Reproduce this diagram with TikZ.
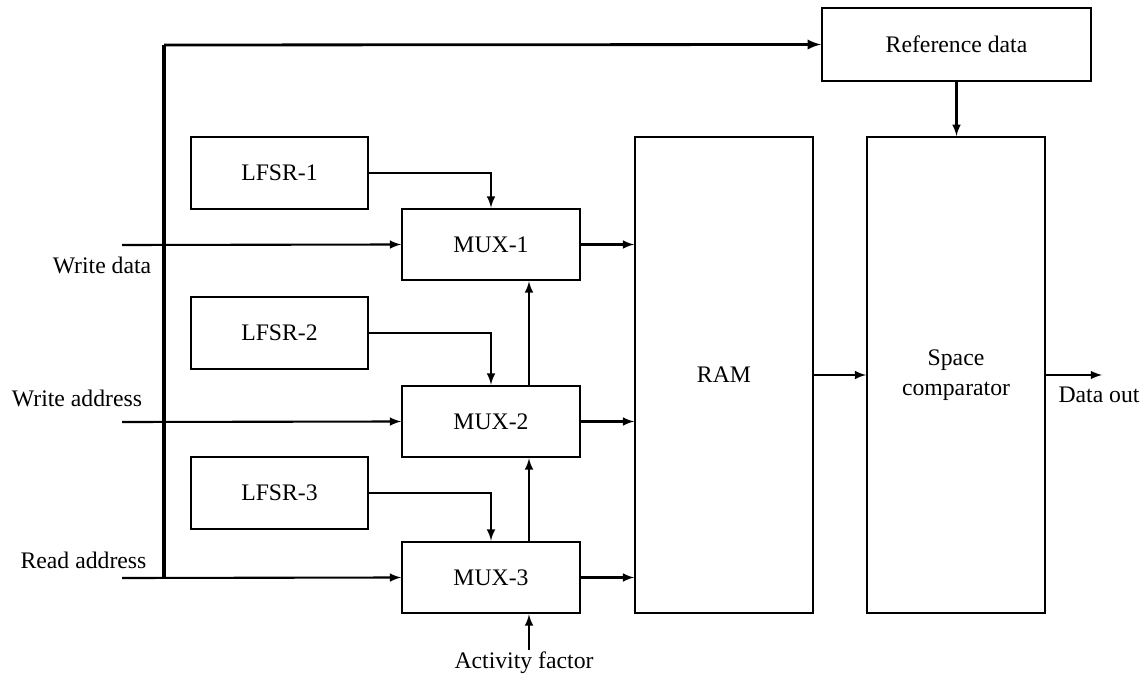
\documentclass[tikz,border=0pt]{standalone}
\usepackage{fontspec}
\setmainfont{Liberation Serif}
\begin{document}
\begin{tikzpicture}[x=0.02cm,y=-0.02cm,font=\fontsize{13.5}{17}\selectfont,
    blk/.style={draw,line width=1.3pt,minimum width=3.55cm,minimum height=1.43cm,inner sep=0pt},
    wire/.style={line width=1.2pt,-latex},
    bus/.style={line width=1.9pt}]
    \useasboundingbox (0,0) rectangle (1145,675);
    % blocks
    \node[blk,minimum width=5.38cm,minimum height=1.46cm] (ref) at (956.5,44.5) {Reference data};
    \node[blk] (lfsr1) at (279.5,173) {LFSR-1};
    \node[blk] (lfsr2) at (279.5,333) {LFSR-2};
    \node[blk] (lfsr3) at (279.5,493) {LFSR-3};
    \node[blk] (mux1) at (491,244.5) {MUX-1};
    \node[blk] (mux2) at (491,421.5) {MUX-2};
    \node[blk] (mux3) at (491,577.5) {MUX-3};
    \node[blk,minimum height=9.52cm] (ram) at (724,375) {RAM};
    \node[blk,minimum height=9.52cm,align=center] (comp) at (956,375) {Space\\comparator};
    % labels
    \node (wd) at (102,265) {Write data};
    \node (wa) at (77,398) {Write address};
    \node (ra) at (83.5,560) {Read address};
    \node (act) at (524,663) {Activity factor};
    \node (out) at (1099,395) {Data out};
    \coordinate (wdin) at (122,245);
    \coordinate (wain) at (122,422);
    \coordinate (rain) at (122,578);
    \coordinate (bustop) at (164,45);
    \coordinate (busbot) at (164,578);
    \coordinate (actin) at (529,650);
    \coordinate (dout) at (1102,375);
    % bus
    \draw[bus] (bustop) -- (busbot);
    \draw[wire,line width=1.6pt] (bustop) -- (ref.west);
    \draw[wire] (wdin) -- (mux1.west);
    \draw[wire] (wain) -- (mux2.west);
    \draw[wire] (rain) -- (mux3.west);
    % lfsr to mux
    \foreach \i in {1,2,3}
    {
        \draw[wire] (lfsr\i.east) -| (mux\i.north);
        \draw[wire] (mux\i.east) -- (mux\i.east -| ram.west);
    }
    \draw[wire] ([xshift=0.76cm]mux2.north) -- ([xshift=0.76cm]mux1.south);
    \draw[wire] ([xshift=0.76cm]mux3.north) -- ([xshift=0.76cm]mux2.south);
    \draw[wire] (actin) -- (actin |- mux3.south);
    \draw[wire] (ram.east) -- (comp.west);
    \draw[wire] (ref.south) -- (ref.south |- comp.north);
    \draw[wire] (comp.east) -- (dout);
\end{tikzpicture}
\end{document}
